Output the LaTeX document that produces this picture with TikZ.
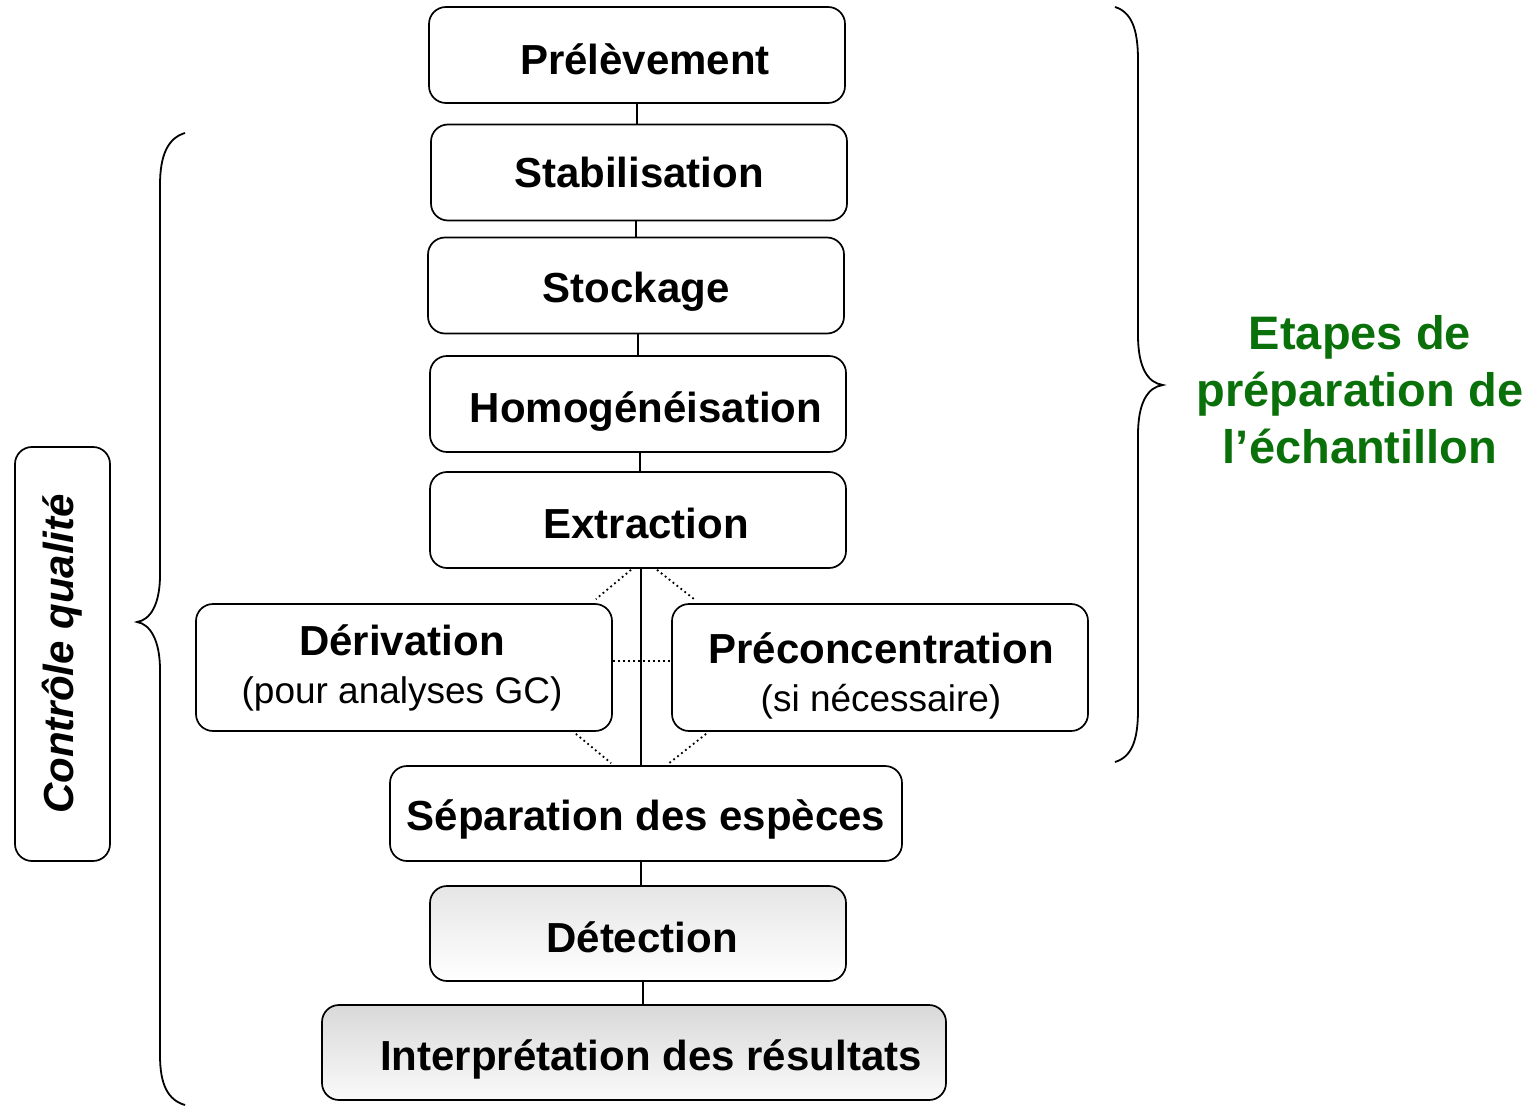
\documentclass[tikz,border=0pt]{standalone}
\usepackage{fontspec}
\setmainfont{Liberation Sans}
\usetikzlibrary{calc}
\definecolor{stepgreen}{RGB}{10,112,10}
\newcommand{\lowertext}[2]{\raisebox{-#1pt}{#2}}
\tikzset{
  stepbox/.style={draw, line width=1.7pt, rounded corners=17pt, inner sep=0pt,
    minimum width=416pt, minimum height=96pt, fill=white,
    text height=30.6pt, text depth=0pt,
    font=\fontsize{42}{50}\selectfont\bfseries},
  twobox/.style={draw, line width=1.7pt, rounded corners=17pt, inner sep=0pt,
    minimum width=416pt, minimum height=127pt, fill=white},
  twotext/.style={align=center, inner sep=0pt, font=\fontsize{37}{48}\selectfont},
  link/.style={line width=1.4pt},
  dotlink/.style={line width=1.8pt, dash pattern=on 1.8pt off 3.2pt},
  bracepath/.style={line width=1.8pt},
}
\begin{document}
\begin{tikzpicture}[x=1pt,y=-1pt]
\useasboundingbox (0,0) rectangle (1534,1107);
% main steps
\node[stepbox] (prel) at (637,55) {\hspace*{16pt}\lowertext{4}{Prélèvement}};
\node[stepbox] (stab) at (639,172.5) {Stabilisation};
\node[stepbox] (stock) at (636,285.5) {\lowertext{2}{Stockage}};
\node[stepbox] (homog) at (638,404) {\hspace*{16pt}\lowertext{3}{Homogénéisation}};
\node[stepbox] (extr) at (638,520) {\hspace*{16pt}\lowertext{3}{Extraction}};
\node[twobox] (deriv) at (404,667.5) {};
\node[twotext] (derivtext) at ($(deriv.center)+(-2,0)$) {{\fontsize{42}{48}\selectfont\bfseries Dérivation}\\(pour analyses GC)};
\node[twobox] (precon) at (880,667.5) {};
\node[twotext] (precontext) at ($(precon.center)+(1,8)$) {{\fontsize{42}{48}\selectfont\bfseries Préconcentration}\\(si nécessaire)};
\node[stepbox, minimum width=512pt, minimum height=95pt] (sep) at (646,813.5) {\lowertext{2}{Séparation des espèces}};
\node[stepbox, minimum height=95pt, shading=axis, top color=black!10, bottom color=white] (det) at (638,933.5) {\hspace*{8pt}\lowertext{4}{Détection}};
\node[stepbox, minimum width=624pt, minimum height=95pt, shading=axis, top color=black!15, bottom color=black!2] (interp) at (634,1052.5) {\hspace*{34pt}\lowertext{3}{Interprétation des résultats}};
% quality control
\node[draw, line width=1.7pt, rounded corners=17pt, inner sep=0pt, rotate=90, minimum width=414pt, minimum height=95pt, font=\fontsize{42}{50}\selectfont\bfseries\itshape] (cq) at (62.5,654) {Contrôle qualité};
% side label
\node[align=center, text=stepgreen, font=\fontsize{47}{57}\selectfont\bfseries] (etapes) at (1360,390) {Etapes de\\préparation de\\l’échantillon};
% solid connectors
\draw[link] (prel.south) -- (prel.south |- stab.north);
\draw[link] (stock.north) -- (stock.north |- stab.south);
\draw[link] ($(stock.south)+(2,0)$) -- ($(stock.south |- homog.north)+(2,0)$);
\draw[link] ($(homog.south)+(2,0)$) -- ($(homog.south |- extr.north)+(2,0)$);
\draw[link] ($(extr.south)+(3,0)$) -- ($(extr.south |- sep.north)+(3,0)$);
\draw[link] ($(sep.south)+(-5,0)$) -- ($(sep.south |- det.north)+(-5,0)$);
\draw[link] ($(det.south)+(5,0)$) -- ($(det.south |- interp.north)+(5,0)$);
% dotted connectors
\draw[dotlink] ($(extr.south)+(-7,1)$) -- ($(deriv.north east)+(-17,-4)$);
\draw[dotlink] ($(extr.south)+(19,1)$) -- ($(precon.north west)+(23,-4)$);
\draw[dotlink] ($(deriv.east)+(0,-6.5)$) -- ($(precon.west)+(0,-6.5)$);
\draw[dotlink] ($(deriv.south east)+(-37,2)$) -- ($(sep.north west)+(222,-2)$);
\draw[dotlink] ($(precon.south west)+(35,2)$) -- ($(sep.north west)+(280,-2)$);
% braces
\draw[bracepath] (185,133) .. controls (168,138) and (160,155) .. (160,185) -- (160,575)
  .. controls (160,605) and (150,620) .. (137,622)
  .. controls (150,624) and (160,640) .. (160,670) -- (160,1055)
  .. controls (160,1085) and (168,1100) .. (185,1105);
\draw[bracepath] (1115,7) .. controls (1131,12) and (1138,28) .. (1138,60) -- (1138,335)
  .. controls (1138,368) and (1148,383) .. (1163,385)
  .. controls (1148,387) and (1138,402) .. (1138,435) -- (1138,710)
  .. controls (1138,742) and (1131,757) .. (1115,762);
\end{tikzpicture}
\end{document}
